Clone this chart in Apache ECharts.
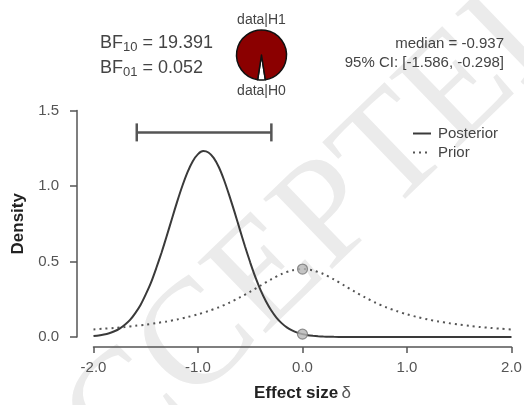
<!DOCTYPE html>
<html>
<head>
<meta charset="utf-8">
<script src="https://cdn.jsdelivr.net/npm/echarts@6/dist/echarts.min.js"></script>
<style>
  html, body { margin: 0; padding: 0; background: #fff; }
  #chart { width: 524px; height: 405px; }
</style>
</head>
<body>
<div id="chart"></div>
<script>
// Prior: Cauchy density on a 0.1 grid of effect sizes
const priorX = [
  -2.0, -1.9, -1.8, -1.7, -1.6, -1.5, -1.4, -1.3, -1.2, -1.1,
  -1.0, -0.9, -0.8, -0.7, -0.6, -0.5, -0.4, -0.3, -0.2, -0.1,
   0.0,  0.1,  0.2,  0.3,  0.4,  0.5,  0.6,  0.7,  0.8,  0.9,
   1.0,  1.1,  1.2,  1.3,  1.4,  1.5,  1.6,  1.7,  1.8,  1.9, 2.0
];
const priorDensity = [
  0.050, 0.055, 0.060, 0.066, 0.074, 0.082, 0.092, 0.103, 0.116, 0.132,
  0.150, 0.172, 0.197, 0.227, 0.262, 0.300, 0.341, 0.382, 0.417, 0.441,
  0.450, 0.441, 0.417, 0.382, 0.341, 0.300, 0.262, 0.227, 0.197, 0.172,
  0.150, 0.132, 0.116, 0.103, 0.092, 0.082, 0.074, 0.066, 0.060, 0.055, 0.050
];

// Posterior density, finer grid where the curve bends
const posteriorX = [
  -2.00, -1.95, -1.90, -1.85, -1.80, -1.75, -1.70, -1.65, -1.60, -1.55,
  -1.50, -1.45, -1.40, -1.35, -1.30, -1.25, -1.20, -1.15, -1.10, -1.05,
  -1.00, -0.95, -0.90, -0.85, -0.80, -0.75, -0.70, -0.65, -0.60, -0.55,
  -0.50, -0.45, -0.40, -0.35, -0.30, -0.25, -0.20, -0.15, -0.10, -0.05,
   0.00,  0.05,  0.10,  0.15,  0.20,  0.25,  0.30,  0.40,  0.60,  1.00,
   1.50,  2.00
];
const posteriorDensity = [
  0.006, 0.010, 0.016, 0.025, 0.038, 0.056, 0.081, 0.113, 0.158, 0.212,
  0.282, 0.360, 0.455, 0.556, 0.667, 0.782, 0.895, 1.000, 1.092, 1.164,
  1.211, 1.231, 1.222, 1.186, 1.124, 1.038, 0.936, 0.827, 0.713, 0.599,
  0.493, 0.395, 0.309, 0.237, 0.177, 0.129, 0.092, 0.064, 0.044, 0.029,
  0.019, 0.012, 0.008, 0.005, 0.003, 0.002, 0.001, 0.000, 0.000, 0.000,
  0.000, 0.000
];

// Densities at the test value delta = 0
const testValue = 0.0;
const priorAtTest = 0.450;
const posteriorAtTest = 0.019;

// Posterior summary
const ciLower = -1.586;
const ciUpper = -0.298;
const ciBarHeight = 1.355;
const posteriorMedian = -0.937;

// Bayes factors
const bf10 = 19.391;
const bf01 = 0.052;

// Axis ticks
const xTicks = [-2.0, -1.0, 0.0, 1.0, 2.0];
const yTicks = [0.0, 0.5, 1.0, 1.5];

const FONT = "'Liberation Sans', Arial, Helvetica, sans-serif";
const INK = '#444';

const chart = echarts.init(document.getElementById('chart'), null, { renderer: 'canvas' });

const zipXY = (xs, ys) => xs.map((x, i) => [x, ys[i]]);

// Pie of P(data|H1) vs P(data|H0): the H0 wedge is centred at six o'clock
const shareH0 = 1 / (1 + bf10);
const pieStart = 270 + shareH0 * 360 / 2;

const subRich = {
  m: { fontSize: 18, fill: INK, fontFamily: FONT },
  s: { fontSize: 13, fill: INK, fontFamily: FONT, verticalAlign: 'bottom', padding: [8, 0, 0, 0] }
};

const option = {
  animation: false,
  grid: { left: 93.5, right: 12.5, top: 110.5, bottom: 68, containLabel: false, outerBoundsMode: 'none' },
  xAxis: {
    type: 'value',
    min: xTicks[0], max: xTicks[xTicks.length - 1], interval: 1,
    offset: 10,
    splitLine: { show: false },
    axisLine: { show: true, onZero: false, lineStyle: { color: '#555', width: 1.5 } },
    axisTick: { show: true, length: 6, inside: false, lineStyle: { color: '#555', width: 1.5 } },
    axisLabel: { margin: 13, color: '#555', fontSize: 15, fontFamily: FONT, formatter: v => v.toFixed(1) },
    name: '{b|Effect size} {d|δ}',
    nameLocation: 'middle',
    nameGap: 38,
    nameTextStyle: {
      rich: {
        b: { fontSize: 17, fontWeight: 'bold', color: '#222', fontFamily: FONT },
        d: { fontSize: 17, color: '#555', fontFamily: FONT }
      }
    }
  },
  yAxis: {
    type: 'value',
    min: yTicks[0], max: yTicks[yTicks.length - 1], interval: 0.5,
    offset: 16.5,
    splitLine: { show: false },
    axisLine: { show: true, onZero: false, lineStyle: { color: '#555', width: 1.5 } },
    axisTick: { show: true, length: 7, inside: false, lineStyle: { color: '#555', width: 1.5 } },
    axisLabel: { margin: 18, color: '#555', fontSize: 15, fontFamily: FONT, formatter: v => v.toFixed(1) },
    name: 'Density',
    nameLocation: 'middle',
    nameGap: 48,
    nameTextStyle: { fontSize: 17, fontWeight: 'bold', color: '#222', fontFamily: FONT }
  },
  legend: {
    data: ['Posterior', 'Prior'],
    orient: 'vertical',
    left: 407, top: 121,
    itemWidth: 18, itemHeight: 12, itemGap: 4,
    itemStyle: { color: 'transparent', borderColor: 'transparent', borderWidth: 0, opacity: 0 },
    textStyle: { fontSize: 15, color: INK, fontFamily: FONT, padding: [0, 0, 0, 2] },
    selectedMode: false
  },
  graphic: [
    {
      type: 'text', z: -10, silent: true,
      x: 292, y: 253, rotation: 44 * Math.PI / 180,
      style: {
        text: 'ACCEPTED', fill: '#ebebeb',
        font: "150px 'Liberation Serif', 'Times New Roman', serif",
        align: 'center', verticalAlign: 'middle'
      }
    },
    {
      type: 'text', x: 100, y: 43,
      style: { text: '{m|BF}{s|10}{m| = ' + bf10.toFixed(3) + '}', verticalAlign: 'middle', rich: subRich }
    },
    {
      type: 'text', x: 100, y: 68,
      style: { text: '{m|BF}{s|01}{m| = ' + bf01.toFixed(3) + '}', verticalAlign: 'middle', rich: subRich }
    },
    {
      type: 'text', x: 261.5, y: 20,
      style: { text: 'data|H1', fontSize: 14, fill: INK, fontFamily: FONT, align: 'center', verticalAlign: 'middle' }
    },
    {
      type: 'text', x: 261.5, y: 91,
      style: { text: 'data|H0', fontSize: 14, fill: INK, fontFamily: FONT, align: 'center', verticalAlign: 'middle' }
    },
    {
      type: 'text', x: 504, y: 44,
      style: { text: 'median = ' + posteriorMedian.toFixed(3), fontSize: 15, fill: INK, fontFamily: FONT, align: 'right', verticalAlign: 'middle' }
    },
    {
      type: 'text', x: 504, y: 63,
      style: { text: '95% CI: [' + ciLower.toFixed(3) + ', ' + ciUpper.toFixed(3) + ']', fontSize: 15, fill: INK, fontFamily: FONT, align: 'right', verticalAlign: 'middle' }
    }
  ],
  series: [
    {
      name: 'Prior',
      type: 'line',
      data: zipXY(priorX, priorDensity),
      smooth: 0.3,
      symbol: 'none',
      lineStyle: { color: '#555', width: 2, type: [2, 4] },
      itemStyle: { color: '#555' },
      z: 3
    },
    {
      name: 'Posterior',
      type: 'line',
      data: zipXY(posteriorX, posteriorDensity),
      smooth: 0.2,
      symbol: 'none',
      lineStyle: { color: '#3a3a3a', width: 2 },
      itemStyle: { color: '#3a3a3a' },
      z: 4
    },
    {
      name: 'atTest',
      type: 'scatter',
      data: [[testValue, priorAtTest], [testValue, posteriorAtTest]],
      symbol: 'circle',
      symbolSize: 10,
      itemStyle: { color: '#b5b5b5', borderColor: '#777', borderWidth: 1.2 },
      z: 5,
      silent: true
    },
    {
      name: 'credibleInterval',
      type: 'custom',
      data: [[ciLower, ciUpper, ciBarHeight]],
      renderItem: function (params, api) {
        const a = api.coord([api.value(0), api.value(2)]);
        const b = api.coord([api.value(1), api.value(2)]);
        const cap = 9;
        const st = { stroke: '#555', lineWidth: 2.5 };
        return {
          type: 'group',
          children: [
            { type: 'line', shape: { x1: a[0], y1: a[1], x2: b[0], y2: b[1] }, style: st },
            { type: 'line', shape: { x1: a[0], y1: a[1] - cap, x2: a[0], y2: a[1] + cap }, style: st },
            { type: 'line', shape: { x1: b[0], y1: b[1] - cap, x2: b[0], y2: b[1] + cap }, style: st }
          ]
        };
      },
      z: 4,
      silent: true
    },
    {
      name: 'bfPie',
      type: 'pie',
      center: [261.5, 55],
      radius: 25,
      startAngle: pieStart,
      clockwise: true,
      silent: true,
      label: { show: false },
      labelLine: { show: false },
      itemStyle: { borderColor: '#111', borderWidth: 1.5 },
      data: [
        { name: 'data|H0', value: 1, itemStyle: { color: '#ffffff' } },
        { name: 'data|H1', value: bf10, itemStyle: { color: '#8b0000' } }
      ]
    }
  ]
};

chart.setOption(option);
</script>
</body>
</html>
